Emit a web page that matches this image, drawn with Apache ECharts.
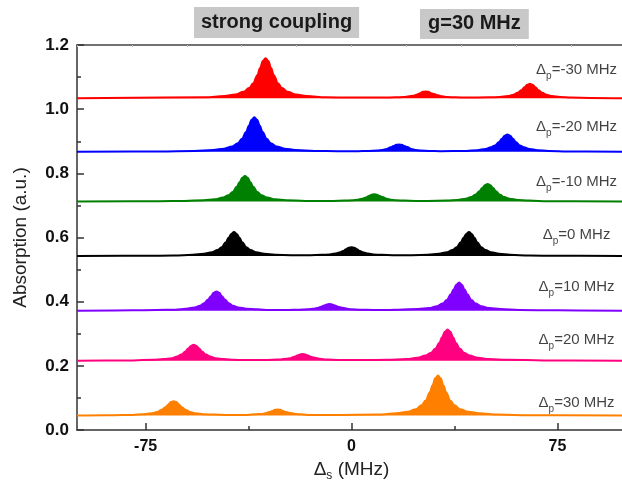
<!DOCTYPE html>
<html><head><meta charset="utf-8">
<script src="https://cdn.jsdelivr.net/npm/echarts@6/dist/echarts.min.js"></script>
<style>html,body{margin:0;padding:0;background:#fff}#c{width:622px;height:485px}</style>
</head><body><div id="c"></div>
<script>
// ---- data ----
const probeDetunings = [-30, -20, -10, 0, 10, 20, 30];
const baselines = [1.034, 0.867, 0.712, 0.542, 0.372, 0.216, 0.045];
const labelY = [1.122, 0.944, 0.773, 0.608, 0.446, 0.281, 0.084];
const labelX = 82;
const colors = ['#ff0000', '#0000ff', '#008000', '#000000', '#8000ff', '#ff0080', '#ff8000'];
const xTicks = [-75, 0, 75];
const xMinorTicks = [-37.5, 37.5];
const boxTexts = ['strong coupling', 'g=30 MHz'];

const ds_m30 = [-100,-53.3,-46.3,-42.3,-39.3,-37.3,-35.8,-34.3,-33.3,-32.3,-31.3,-30.3,-29.3,-28.3,-26.8,-25.3,-23.3,-20.3,-16.3,-9.3,0,5,12,16,19,21,22.5,24,25,26,27,28,29,30,31.5,33,35,38,42,50,54,57,59,60.5,62,63,64,65,66,67,68,69.5,71,73,76,80,87,100];
const ab_m30 = [1.034,1.037,1.041,1.046,1.054,1.066,1.081,1.106,1.128,1.150,1.159,1.150,1.128,1.106,1.081,1.066,1.054,1.046,1.041,1.037,1.036,1.036,1.036,1.037,1.038,1.040,1.042,1.046,1.050,1.054,1.055,1.054,1.050,1.047,1.043,1.040,1.038,1.037,1.036,1.037,1.038,1.041,1.045,1.051,1.060,1.068,1.076,1.079,1.076,1.068,1.060,1.051,1.045,1.041,1.038,1.036,1.035,1.034];

const ds_m20 = [-100,-70,-57.4,-50.4,-46.4,-43.4,-41.4,-39.9,-38.4,-37.4,-36.4,-35.4,-34.4,-33.4,-32.4,-30.9,-29.4,-27.4,-24.4,-20.4,-13.4,-5,2.3,6.3,9.3,11.3,12.8,14.3,15.3,16.3,17.3,18.3,19.3,20.3,21.8,23.3,25.3,28.3,32.3,41.8,45.8,48.8,50.8,52.3,53.8,54.8,55.8,56.8,57.8,58.8,59.8,61.3,62.8,64.8,67.8,71.8,78.8,100];
const ab_m20 = [0.867,0.868,0.870,0.873,0.877,0.884,0.894,0.908,0.929,0.948,0.967,0.975,0.967,0.948,0.929,0.908,0.894,0.884,0.877,0.873,0.870,0.869,0.869,0.870,0.871,0.873,0.876,0.881,0.885,0.889,0.890,0.889,0.885,0.882,0.876,0.873,0.871,0.870,0.869,0.870,0.872,0.876,0.881,0.887,0.898,0.908,0.917,0.921,0.917,0.908,0.898,0.887,0.881,0.876,0.872,0.870,0.868,0.867];

const ds_m10 = [-100,-70,-60.8,-53.8,-49.8,-46.8,-44.8,-43.3,-41.8,-40.8,-39.8,-38.8,-37.8,-36.8,-35.8,-34.3,-32.8,-30.8,-27.8,-23.8,-16.8,-6.7,-2.7,0.3,2.3,3.8,5.3,6.3,7.3,8.3,9.3,10.3,11.3,12.8,14.3,16.3,19.3,23.3,27.6,34.6,38.6,41.6,43.6,45.1,46.6,47.6,48.6,49.6,50.6,51.6,52.6,54.1,55.6,57.6,60.6,64.6,71.6,100];
const ab_m10 = [0.712,0.713,0.714,0.716,0.719,0.725,0.732,0.742,0.758,0.772,0.786,0.792,0.786,0.772,0.758,0.742,0.732,0.725,0.719,0.716,0.714,0.714,0.715,0.716,0.718,0.721,0.725,0.729,0.733,0.735,0.733,0.729,0.726,0.721,0.718,0.716,0.715,0.714,0.714,0.715,0.717,0.721,0.726,0.733,0.744,0.754,0.763,0.767,0.763,0.754,0.744,0.733,0.726,0.721,0.717,0.715,0.713,0.712];

const ds_0 = [-100,-75,-64.8,-57.8,-53.8,-50.8,-48.8,-47.3,-45.8,-44.8,-43.8,-42.8,-41.8,-40.8,-39.8,-38.3,-36.8,-34.8,-31.8,-27.8,-22,-15,-11,-8,-6,-4.5,-3,-2,-1,0,1,2,3,4.5,6,8,11,15,22,27.8,31.8,34.8,36.8,38.3,39.8,40.8,41.8,42.8,43.8,44.8,45.8,47.3,48.8,50.8,53.8,57.8,64.8,75,100];
const ab_0 = [0.542,0.543,0.544,0.546,0.549,0.554,0.561,0.570,0.585,0.599,0.611,0.617,0.611,0.599,0.585,0.570,0.561,0.554,0.549,0.546,0.545,0.545,0.546,0.547,0.550,0.553,0.558,0.563,0.568,0.570,0.568,0.563,0.558,0.553,0.550,0.547,0.546,0.545,0.545,0.546,0.549,0.554,0.561,0.570,0.585,0.599,0.611,0.617,0.611,0.599,0.585,0.570,0.561,0.554,0.549,0.546,0.544,0.543,0.542];

const ds_p10 = [-100,-80,-71.2,-64.2,-60.2,-57.2,-55.2,-53.7,-52.2,-51.2,-50.2,-49.2,-48.2,-47.2,-46.2,-44.7,-43.2,-41.2,-38.2,-34.2,-30,-23,-19,-16,-14,-12.5,-11,-10,-9,-8,-7,-6,-5,-3.5,-2,0,3,8,14,17.2,24.2,28.2,31.2,33.2,34.7,36.2,37.2,38.2,39.2,40.2,41.2,42.2,43.7,45.2,47.2,50.2,54.2,61.2,75,100];
const ab_p10 = [0.372,0.373,0.374,0.375,0.378,0.382,0.387,0.395,0.407,0.417,0.428,0.432,0.428,0.417,0.407,0.395,0.387,0.382,0.378,0.376,0.374,0.374,0.375,0.376,0.378,0.380,0.384,0.388,0.391,0.393,0.391,0.388,0.384,0.381,0.379,0.376,0.375,0.374,0.374,0.375,0.377,0.380,0.386,0.394,0.405,0.423,0.438,0.453,0.460,0.453,0.438,0.423,0.405,0.394,0.386,0.380,0.377,0.374,0.373,0.372];

const ds_p20 = [-100,-85,-79.5,-72.5,-68.5,-65.5,-63.5,-62,-60.5,-59.5,-58.5,-57.5,-56.5,-55.5,-54.5,-53,-51.5,-49.5,-46.5,-42.5,-39.8,-32.8,-28.8,-25.8,-23.8,-22.3,-20.8,-19.8,-18.8,-17.8,-16.8,-15.8,-14.8,-13.3,-11.8,-9.8,-6.8,-2.8,4.2,13,20,24,27,29,30.5,32,33,34,35,36,37,38,39.5,41,43,46,50,57,70,100];
const ab_p20 = [0.216,0.217,0.217,0.219,0.221,0.224,0.229,0.235,0.245,0.254,0.262,0.266,0.262,0.254,0.245,0.235,0.229,0.224,0.221,0.219,0.218,0.218,0.219,0.220,0.222,0.224,0.228,0.232,0.235,0.237,0.235,0.232,0.228,0.225,0.222,0.220,0.219,0.218,0.218,0.219,0.221,0.225,0.232,0.241,0.253,0.272,0.289,0.306,0.313,0.306,0.289,0.272,0.253,0.241,0.232,0.225,0.221,0.219,0.217,0.216];

const ds_p30 = [-100,-90,-86.8,-79.8,-75.8,-72.8,-70.8,-69.3,-67.8,-66.8,-65.8,-64.8,-63.8,-62.8,-61.8,-60.3,-58.8,-56.8,-53.8,-49.8,-46,-41.9,-37.9,-34.9,-32.9,-31.4,-29.9,-28.9,-27.9,-26.9,-25.9,-24.9,-23.9,-22.4,-20.9,-18.9,-15.9,-11.9,-4.9,9.5,16.5,20.5,23.5,25.5,27,28.5,29.5,30.5,31.5,32.5,33.5,34.5,36,37.5,39.5,42.5,46.5,53.5,65,100];
const ab_p30 = [0.045,0.046,0.046,0.047,0.049,0.052,0.056,0.062,0.071,0.079,0.087,0.090,0.087,0.079,0.071,0.062,0.056,0.052,0.049,0.048,0.047,0.047,0.047,0.049,0.050,0.052,0.056,0.059,0.063,0.064,0.063,0.059,0.056,0.053,0.051,0.049,0.047,0.047,0.047,0.048,0.052,0.057,0.065,0.077,0.092,0.117,0.139,0.161,0.170,0.161,0.139,0.117,0.092,0.077,0.065,0.057,0.052,0.048,0.046,0.045];

// ---- chart ----
const curveX = [ds_m30, ds_m20, ds_m10, ds_0, ds_p10, ds_p20, ds_p30];
const curveY = [ab_m30, ab_m20, ab_m10, ab_0, ab_p10, ab_p20, ab_p30];
const FF = '"Liberation Sans", Arial, sans-serif';

const series = [];
probeDetunings.forEach((dp, i) => {
  series.push({
    type: 'line', silent: true, symbol: 'none', showSymbol: false,
    smooth: 0.4, smoothMonotone: 'x',
    data: curveX[i].map((x, j) => [x, curveY[i][j]]),
    lineStyle: { color: colors[i], width: 2 },
    itemStyle: { color: colors[i] },
    areaStyle: { color: colors[i], opacity: 1, origin: baselines[i] },
    z: 3
  });
  series.push({
    type: 'scatter', silent: true, symbolSize: 1,
    itemStyle: { color: 'rgba(0,0,0,0)' },
    data: [[labelX, labelY[i]]],
    label: {
      show: true, position: 'inside',
      formatter: '{d|\u0394}{s|p}{t|=' + dp + ' MHz}',
      rich: {
        d: { fontSize: 15, color: '#111', fontFamily: FF, lineHeight: 22, verticalAlign: 'middle' },
        s: { fontSize: 10, color: '#111', fontFamily: FF, lineHeight: 10, verticalAlign: 'bottom' },
        t: { fontSize: 15, color: '#111', fontFamily: FF, lineHeight: 22, verticalAlign: 'middle' }
      }
    },
    z: 5
  });
});

const chart = echarts.init(document.getElementById('c'), null, { renderer: 'canvas' });
chart.setOption({
  animation: false,
  backgroundColor: '#fff',
  title: [
    { text: boxTexts[0], left: 194, top: 7, backgroundColor: '#c8c8c8', padding: [5, 7, 5, 7],
      textStyle: { fontSize: 20, fontWeight: 'bold', color: '#1a1a1a', fontFamily: FF, lineHeight: 21 } },
    { text: boxTexts[1], left: 420, top: 9, backgroundColor: '#c8c8c8', padding: [4, 8, 5, 8],
      textStyle: { fontSize: 20, fontWeight: 'bold', color: '#1a1a1a', fontFamily: FF, lineHeight: 21 } }
  ],
  grid: { left: 77, top: 45, width: 549, height: 385, containLabel: false, outerBoundsMode: 'none' },
  xAxis: [
    { type: 'value', min: -100, max: 100, position: 'bottom',
      axisLine: { show: true, onZero: false, lineStyle: { color: '#333', width: 1.5 } },
      axisTick: { show: true, inside: true, length: 7, customValues: xTicks, lineStyle: { color: '#333', width: 1.5 } },
      axisLabel: { customValues: xTicks, fontSize: 16, fontWeight: 'bold', color: '#111', margin: 9, fontFamily: FF },
      splitLine: { show: false },
      name: '{a|\u0394}{b|s}{a| (MHz)}', nameLocation: 'middle', nameGap: 25,
      nameTextStyle: { rich: {
        a: { fontSize: 19, color: '#222', fontFamily: FF, lineHeight: 24, verticalAlign: 'middle' },
        b: { fontSize: 12, color: '#222', fontFamily: FF, lineHeight: 12, verticalAlign: 'bottom' } } } },
    { type: 'value', min: -100, max: 100, position: 'bottom',
      axisLine: { show: false, onZero: false },
      axisTick: { show: true, inside: true, length: 4, customValues: xMinorTicks, lineStyle: { color: '#333', width: 1.5 } },
      axisLabel: { show: false }, splitLine: { show: false } },
    { type: 'value', min: -100, max: 100, interval: 20, position: 'top',
      axisLine: { show: true, onZero: false, lineStyle: { color: '#444', width: 1.5 } },
      axisTick: { show: true, inside: true, length: 2, lineStyle: { color: '#bbb', width: 1 } },
      axisLabel: { show: false }, splitLine: { show: false } }
  ],
  yAxis: [{
    type: 'value', min: 0, max: 1.2, interval: 0.2,
    axisLine: { show: true, onZero: false, lineStyle: { color: '#333', width: 1.5 } },
    axisTick: { show: true, inside: true, length: 7, lineStyle: { color: '#333', width: 1.5 } },
    minorTick: { show: true, splitNumber: 2, length: 4, lineStyle: { color: '#333', width: 1.5 } },
    axisLabel: { formatter: v => v.toFixed(1), fontSize: 17, fontWeight: 'bold', color: '#111', margin: 8, fontFamily: FF },
    splitLine: { show: false }, minorSplitLine: { show: false },
    name: 'Absorption (a.u.)', nameLocation: 'middle', nameGap: 47,
    nameTextStyle: { fontSize: 19, color: '#222', fontFamily: FF }
  }],
  series: series
});
</script>
</body></html>
